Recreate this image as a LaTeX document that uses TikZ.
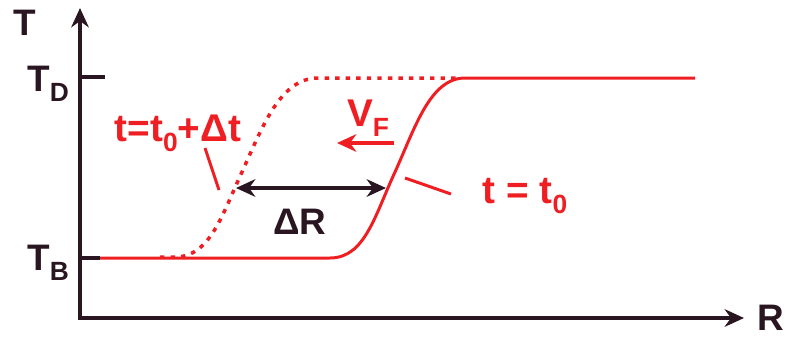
\documentclass[tikz,border=0pt]{standalone}
\usepackage{fontspec}
\setmainfont{Liberation Sans}
\usetikzlibrary{arrows.meta,positioning}
\definecolor{pen}{RGB}{238,30,34}
\definecolor{ink}{RGB}{42,22,32}
\newcommand{\sbs}[1]{\raisebox{-0.5ex}{\fontsize{15}{15}\selectfont #1}}
\begin{document}
\begin{tikzpicture}[x=0.02cm,y=-0.02cm,
  axis/.style={ink,line width=2.2pt,-{Stealth[length=11pt,width=10pt]}},
  tick/.style={ink,line width=2pt},
  lab/.style={ink,font=\fontsize{21}{24}\selectfont\bfseries,inner sep=0pt},
  rlab/.style={pen,font=\fontsize{22}{24}\selectfont\bfseries,inner sep=0pt},
  front/.style={pen,line width=1.7pt},
  later/.style={pen,line width=2pt,dash pattern=on 2.5pt off 3.5pt},
  lead/.style={pen,line width=1.7pt}]
  \useasboundingbox (0,0) rectangle (801,336);
  % axes
  \coordinate (o) at (80,318);
  \coordinate (ytop) at (80,8);
  \coordinate (xend) at (744,318);
  \draw[axis] (80,320) -- (ytop);
  \draw[axis] (78,318) -- (xend);
  \node[lab] (T) at (25,23) {T};
  \node[lab] (R) at (771,318) {R};
  \node[lab] (TD) at (48,84) {T\sbs{D}};
  \node[lab] (TB) at (48,263) {T\sbs{B}};
  \draw[tick] (80,77) -- (105,77);
  \draw[tick] (80,258) -- (100,258);
  % front at t0
  \draw[front] (100,258) -- (330,258)
    .. controls (365,258) and (375,215) .. (395,172)
    .. controls (415,128) and (430,78) .. (465,78) -- (695,78);
  % front at t0+dt
  \draw[later] (160,257) -- (175,257)
    .. controls (210,257) and (222,215) .. (242,172)
    .. controls (262,128) and (280,78) .. (318,78) -- (458,78);
  % distance
  \coordinate (rl) at (236,188);
  \coordinate (rr) at (386,188);
  \draw[ink,line width=1.8pt,{Stealth[length=11pt,width=10pt]}-{Stealth[length=11pt,width=10pt]}] (rl) -- (rr);
  \node[lab] (dR) at (300,222) {ΔR};
  % speed
  \coordinate (vt) at (394,143);
  \coordinate (vh) at (337,143);
  \draw[pen,line width=1.8pt,-{Stealth[length=11pt,width=10pt]}] (vt) -- (vh);
  \node[rlab] (vF) at (368,118) {V\sbs{F}};
  % labels
  \node[rlab] (tl) at (178,133) {t=t\sbs{0}+Δt};
  \coordinate (tl1) at (205,148);
  \coordinate (tl2) at (219,190);
  \draw[lead] (tl1) -- (tl2);
  \node[rlab] (tr) at (525,196) {t = t\sbs{0}};
  \coordinate (tr1) at (405,178);
  \coordinate (tr2) at (451,194);
  \draw[lead] (tr1) -- (tr2);
\end{tikzpicture}
\end{document}
